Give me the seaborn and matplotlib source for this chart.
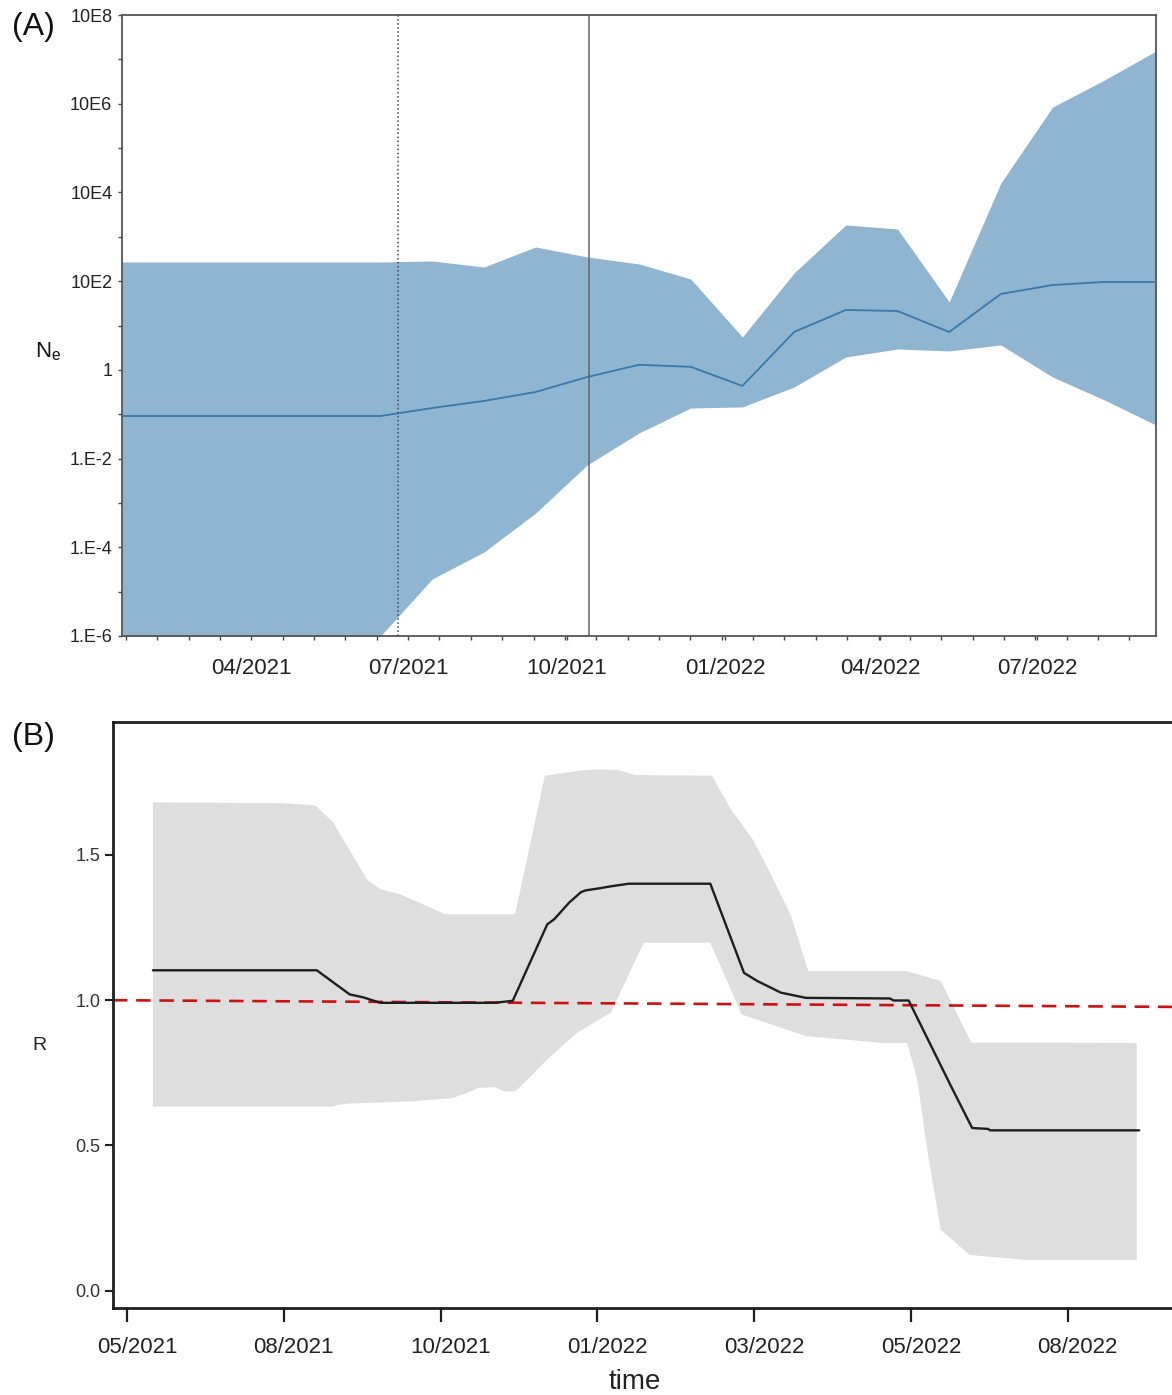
import numpy as np
import pandas as pd
import matplotlib
matplotlib.use('Agg')
import matplotlib.pyplot as plt
import matplotlib.dates as mdates
import matplotlib.transforms as mtransforms
from matplotlib.ticker import FixedLocator, NullFormatter, AutoMinorLocator
import seaborn as sns

# ---------------- Panel A data: Bayesian skyline (Ne) ----------------
node_dates = pd.date_range('2021-01-16', periods=21, freq='30D')
ne_upper = [270, 270, 270, 270, 270, 270, 285, 208, 589, 351, 244, 112, 5.5,
            153, 1845, 1500, 33.9, 16300, 8.4e5, 3.4e6, 1.54e7]
ne_median = [0.091, 0.091, 0.091, 0.091, 0.091, 0.091, 0.138, 0.199, 0.317, 0.69,
             1.30, 1.17, 0.434, 7.14, 22.4, 21.2, 7.14, 51.4, 81.8, 95.7, 95.7]
ne_lower = [1e-8, 1e-8, 1e-8, 1e-8, 1e-8, 1e-6, 1.93e-5, 7.8e-5, 5.9e-4, 7.2e-3,
            0.0378, 0.138, 0.146, 0.411, 1.95, 2.95, 2.67, 3.64, 0.69, 0.21, 0.057]
marker_dates = ['2021-06-25', '2021-10-14']
a_xticks = ['2021-04-01', '2021-07-01', '2021-10-01', '2022-01-01', '2022-04-01', '2022-07-01']
a_yticks = [1e-6, 1e-4, 1e-2, 1, 1e2, 1e4, 1e6, 1e8]
a_yticklabels = ['1.E-6', '1.E-4', '1.E-2', '1', '10E2', '10E4', '10E6', '10E8']

# ---------------- Panel B data: reproductive number R ----------------
r_med_t = [2021.433, 2021.642, 2021.684, 2021.701, 2021.723, 2021.869, 2021.892,
           2021.936, 2021.945, 2021.964, 2021.979, 2021.985, 2022.002, 2022.017,
           2022.040, 2022.144, 2022.187, 2022.204, 2022.234, 2022.266, 2022.373,
           2022.378, 2022.397, 2022.451, 2022.478, 2022.498, 2022.501, 2022.691]
r_med = [1.103, 1.103, 1.020, 1.010, 0.991, 0.991, 0.998,
         1.261, 1.279, 1.336, 1.372, 1.378, 1.385, 1.392,
         1.401, 1.401, 1.094, 1.066, 1.026, 1.008, 1.006,
         0.999, 0.999, 0.704, 0.560, 0.557, 0.552, 0.552]
r_up_t = [2021.433, 2021.599, 2021.640, 2021.663, 2021.706, 2021.723, 2021.748,
          2021.806, 2021.895, 2021.933, 2021.957, 2021.977, 2021.998, 2022.026,
          2022.048, 2022.146, 2022.170, 2022.198, 2022.220, 2022.247, 2022.269,
          2022.395, 2022.438, 2022.477, 2022.688]
r_up = [1.681, 1.678, 1.671, 1.612, 1.416, 1.382, 1.365,
        1.296, 1.296, 1.773, 1.782, 1.790, 1.794, 1.793,
        1.775, 1.773, 1.658, 1.554, 1.440, 1.290, 1.100,
        1.100, 1.066, 0.854, 0.853]
r_lo_t = [2021.433, 2021.663, 2021.668, 2021.682, 2021.765, 2021.815, 2021.834,
          2021.848, 2021.868, 2021.882, 2021.895, 2021.911, 2021.936, 2021.974,
          2022.017, 2022.059, 2022.144, 2022.184, 2022.209, 2022.266, 2022.313,
          2022.362, 2022.395, 2022.408, 2022.420, 2022.438, 2022.475, 2022.521,
          2022.544, 2022.688]
r_lo = [0.634, 0.634, 0.640, 0.644, 0.652, 0.663, 0.681,
        0.698, 0.701, 0.686, 0.686, 0.727, 0.796, 0.888,
        0.957, 1.198, 1.198, 0.951, 0.928, 0.876, 0.865,
        0.853, 0.853, 0.727, 0.497, 0.209, 0.123, 0.112,
        0.106, 0.106]
ref_t = [2021.382, 2022.763]
ref_r = [1.0, 0.9765]
b_xticks = [2021.4, 2021.6, 2021.8, 2022.0, 2022.2, 2022.4, 2022.6]
b_xticklabels = ['05/2021', '08/2021', '10/2021', '01/2022', '03/2022', '05/2022', '08/2022']
b_yticks = [0.0, 0.5, 1.0, 1.5]
b_yticklabels = ['0.0', '0.5', '1.0', '1.5']

# ---------------- Style ----------------
sns.set_style('ticks')
plt.rcParams['font.family'] = ['Liberation Sans', 'DejaVu Sans']
plt.rcParams['mathtext.fontset'] = 'custom'
plt.rcParams['mathtext.rm'] = 'Liberation Sans'
plt.rcParams['mathtext.it'] = 'Liberation Sans'

W, H = 1172, 1395
fig = plt.figure(figsize=(W / 100, H / 100), dpi=100)

# ---------------- Panel A ----------------
axA = fig.add_axes([122 / W, 1 - 636 / H, (1156 - 122) / W, (636 - 15) / H])
dfA = pd.DataFrame({'date': node_dates, 'median': ne_median,
                    'lower': ne_lower, 'upper': ne_upper})
axA.fill_between(dfA['date'], dfA['lower'], dfA['upper'], color='#8fb5d0', lw=0, zorder=1)
sns.lineplot(data=dfA, x='date', y='median', ax=axA, color='#3b78a8', lw=1.3,
             estimator=None, zorder=3)
for d, ls, c in zip(marker_dates, [':', '-'], ['#444444', '#666666']):
    axA.axvline(pd.Timestamp(d), color=c, ls=ls, lw=1.1, zorder=4)
axA.set_yscale('log')
axA.set_ylim(1e-6, 1e8)
axA.set_xlim(node_dates[0], node_dates[-1])
axA.yaxis.set_major_locator(FixedLocator(a_yticks))
axA.set_yticklabels(a_yticklabels)
axA.yaxis.set_minor_locator(FixedLocator([1e-5, 1e-3, 1e-1, 1e1, 1e3, 1e5, 1e7]))
axA.yaxis.set_minor_formatter(NullFormatter())
axA.set_xticks(pd.to_datetime(a_xticks))
axA.xaxis.set_major_formatter(mdates.DateFormatter('%m/%Y'))
axA.xaxis.set_minor_locator(AutoMinorLocator(5))
axA.tick_params(axis='y', which='both', length=3, width=1, color='#444444',
                labelsize=13, pad=4, labelcolor='#222222')
axA.tick_params(axis='x', which='both', length=3, width=1, color='#444444',
                labelsize=16, pad=13, labelcolor='#222222')
axA.set_xlabel('')
axA.set_ylabel('')
for s in axA.spines.values():
    s.set_color('#555555')
    s.set_linewidth(1.3)
    s.set_visible(True)

# ---------------- Panel B ----------------
axB = fig.add_axes([113 / W, 1 - 1308 / H, (1.02 * W - 113) / W, (1308 - 722) / H])
axB.fill(np.r_[r_up_t, r_lo_t[::-1]], np.r_[r_up, r_lo[::-1]], color='#dedede', lw=0, zorder=1)
axB.plot(ref_t, ref_r, color='#cc1111', lw=1.9, dashes=(5.5, 3.3), zorder=2)
dfB = pd.DataFrame({'t': r_med_t, 'R': r_med})
sns.lineplot(data=dfB, x='t', y='R', ax=axB, color='#1e1e1e', lw=1.7,
             estimator=None, zorder=3)
axB.set_xlim(2021.3821, 2022.7628)
axB.set_ylim(-0.0596, 1.9577)
axB.set_xticks(b_xticks)
axB.set_xticklabels(b_xticklabels)
axB.set_yticks(b_yticks)
axB.set_yticklabels(b_yticklabels)
axB.tick_params(axis='x', length=10, width=1.6, color='#1e1e1e', labelsize=16,
                pad=11, labelcolor='#222222')
axB.tick_params(axis='y', length=6, width=1.5, color='#1e1e1e', labelsize=13,
                pad=3, labelcolor='#333333')
# labels in the reference sit slightly to the right of their ticks
shift = mtransforms.ScaledTranslation(10 / 100, 0, fig.dpi_scale_trans)
for lab in axB.get_xticklabels():
    lab.set_transform(lab.get_transform() + shift)
axB.set_xlabel('')
axB.set_ylabel('')
for name, s in axB.spines.items():
    s.set_color('#1e1e1e')
    s.set_linewidth(2)
    s.set_visible(True)

# ---------------- Text labels ----------------
fig.text(33 / W, 1 - 27 / H, '(A)', fontsize=23, ha='center', va='center', color='#111111')
fig.text(33 / W, 1 - 737 / H, '(B)', fontsize=23, ha='center', va='center', color='#111111')
fig.text(48 / W, 1 - 352 / H, r'N$_\mathrm{e}$', fontsize=16, ha='center', va='center', color='#111111')
fig.text(39 / W, 1 - 1046 / H, 'R', fontsize=14, ha='center', va='center', color='#222222')
fig.text(635 / W, 1 - 1382 / H, 'time', fontsize=20, ha='center', va='center', color='#222222')

fig.savefig('out.png', dpi=100)
